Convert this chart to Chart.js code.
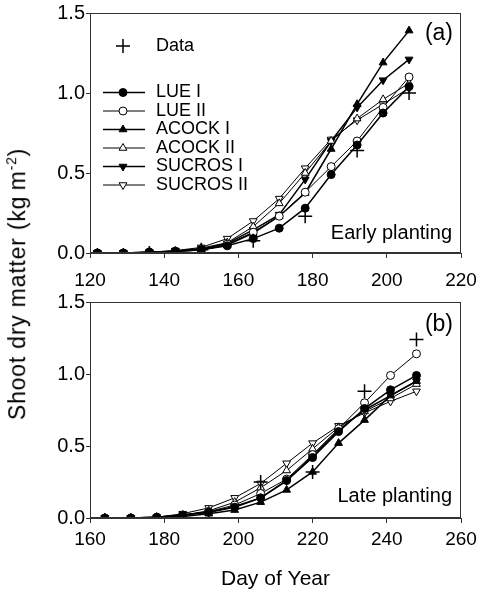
<!DOCTYPE html>
<html>
<head>
<meta charset="utf-8">
<script src="https://cdn.jsdelivr.net/npm/chart.js@4.4.0/dist/chart.umd.min.js"></script>
<style>
  body { margin: 0; background: #fff; width: 477px; height: 596px; position: relative; overflow: hidden; }
  canvas { position: absolute; left: 0; }
  #ytitle {
    position: absolute; left: 17px; top: 284px;
    transform: translate(-50%, -50%) rotate(-90deg);
    white-space: nowrap; font: 23px "Liberation Sans", Arial, sans-serif; letter-spacing: 0.8px; color: #000;
  }
  #ytitle sup { font-size: 14px; }
</style>
</head>
<body>
<canvas id="chartA" width="477" height="290" style="top:0"></canvas>
<canvas id="chartB" width="477" height="306" style="top:290px"></canvas>
<div id="ytitle">Shoot dry matter (kg&#8201;m<sup>-2</sup>)</div>
<script>
// ===== data: (a) early planting =====
const daysA = [122, 129, 136, 143, 150, 157, 164, 171, 178, 185, 192, 199, 206];
const lueIA = [0, 0, 0.005, 0.01, 0.02, 0.045, 0.09, 0.155, 0.28, 0.49, 0.675, 0.875, 1.04];
const lueIIA = [0, 0, 0.005, 0.012, 0.025, 0.055, 0.13, 0.23, 0.38, 0.54, 0.70, 0.91, 1.10];
const acockIA = [0, 0, 0.005, 0.01, 0.02, 0.05, 0.125, 0.23, 0.375, 0.65, 0.93, 1.19, 1.39];
const acockIIA = [0, 0, 0.005, 0.012, 0.03, 0.065, 0.165, 0.31, 0.50, 0.70, 0.84, 0.96, 1.06];
const sucrosIA = [0, 0, 0.005, 0.012, 0.025, 0.06, 0.145, 0.24, 0.46, 0.70, 0.91, 1.08, 1.21];
const sucrosIIA = [0, 0, 0.005, 0.015, 0.035, 0.09, 0.20, 0.34, 0.53, 0.71, 0.83, 0.93, 1.03];
const obsDaysA = [136, 150, 164, 178, 192, 206];
const obsA = [0.0, 0.02, 0.077, 0.23, 0.64, 1.00];

// ===== data: (b) late planting =====
const daysB = [164, 171, 178, 185, 192, 199, 206, 213, 220, 227, 234, 241, 248];
const lueIB = [0, 0, 0.005, 0.02, 0.04, 0.075, 0.14, 0.26, 0.42, 0.60, 0.76, 0.89, 0.99];
const lueIIB = [0, 0, 0.005, 0.02, 0.045, 0.09, 0.17, 0.27, 0.44, 0.62, 0.80, 0.99, 1.14];
const acockIB = [0, 0, 0.005, 0.01, 0.03, 0.055, 0.11, 0.195, 0.32, 0.52, 0.68, 0.85, 0.95];
const acockIIB = [0, 0, 0.005, 0.02, 0.05, 0.11, 0.21, 0.33, 0.48, 0.63, 0.74, 0.83, 0.93];
const sucrosIB = [0, 0, 0.005, 0.02, 0.04, 0.08, 0.14, 0.26, 0.43, 0.61, 0.75, 0.85, 0.95];
const sucrosIIB = [0, 0, 0.005, 0.03, 0.07, 0.14, 0.24, 0.38, 0.52, 0.64, 0.73, 0.81, 0.88];
const obsDaysB = [206, 220, 234, 248];
const obsB = [0.25, 0.32, 0.88, 1.24];

const modelNames = ["LUE I", "LUE II", "ACOCK I", "ACOCK II", "SUCROS I", "SUCROS II"];
const yTicks = [0, 0.5, 1.0, 1.5];

const FONT = "'Liberation Sans', Arial, sans-serif";

// marker look for each model, same order as modelNames
const looks = [
  { pointStyle: "circle", fill: "#000", rot: 0, w: 1.5 },
  { pointStyle: "circle", fill: "#fff", rot: 0, w: 1 },
  { pointStyle: "triangle", fill: "#000", rot: 0, w: 1.5 },
  { pointStyle: "triangle", fill: "#fff", rot: 0, w: 1 },
  { pointStyle: "triangle", fill: "#000", rot: 180, w: 1.5 },
  { pointStyle: "triangle", fill: "#fff", rot: 180, w: 1 },
];

function pts(xs, ys) {
  return xs.map((x, i) => ({ x: x, y: ys[i] }));
}

function buildDatasets(days, series, obsDays, obs) {
  const sets = [
    {
      label: "Data",
      data: pts(obsDays, obs),
      showLine: false,
      pointStyle: "cross",
      pointRadius: 7,
      pointBorderWidth: 1.5,
      pointBorderColor: "#000",
      borderColor: "#000",
    },
  ];
  series.forEach((vals, i) => {
    const lk = looks[i];
    sets.push({
      label: modelNames[i],
      data: pts(days, vals),
      borderColor: "#000",
      borderWidth: lk.w,
      tension: 0,
      pointStyle: lk.pointStyle,
      pointRotation: lk.rot,
      pointRadius: lk.pointStyle === "circle" ? 4 : 4.5,
      pointBackgroundColor: lk.fill,
      pointBorderColor: "#000",
      pointBorderWidth: 1,
    });
  });
  return sets;
}

// frame + panel labels + (optional) legend
const panelPlugin = {
  id: "panel",
  afterDraw(chart, args, opts) {
    const { ctx, chartArea: a } = chart;
    ctx.save();
    ctx.strokeStyle = "#333";
    ctx.lineWidth = 1;
    ctx.strokeRect(Math.round(a.left) + 0.5, Math.round(a.top) + 0.5,
      Math.round(a.right - a.left) - 1, Math.round(a.bottom - a.top) - 1);

    ctx.fillStyle = "#000";
    ctx.textAlign = "right";
    ctx.textBaseline = "middle";
    ctx.font = "23px " + FONT;
    ctx.fillText(opts.tag, 453, opts.tagY);
    ctx.font = "20px " + FONT;
    ctx.fillText(opts.note, 452, opts.noteY);

    if (opts.legend) {
      const sets = chart.data.datasets;
      ctx.font = "18px " + FONT;
      ctx.textAlign = "left";
      // Data row
      ctx.strokeStyle = "#000";
      ctx.lineWidth = 1.5;
      Chart.helpers.drawPoint(ctx, { pointStyle: "cross", radius: 7, rotation: 0, borderWidth: 1.5 }, 123, 46);
      ctx.fillText("Data", 156, 46);
      // model rows
      for (let i = 1; i < sets.length; i++) {
        const ds = sets[i];
        const y = 92.5 + (i - 1) * 18.5;
        ctx.strokeStyle = "#000";
        ctx.lineWidth = ds.borderWidth;
        ctx.beginPath();
        ctx.moveTo(103, y);
        ctx.lineTo(145, y);
        ctx.stroke();
        ctx.fillStyle = ds.pointBackgroundColor;
        ctx.lineWidth = 1;
        Chart.helpers.drawPoint(ctx, {
          pointStyle: ds.pointStyle, radius: ds.pointRadius,
          rotation: ds.pointRotation, borderWidth: 1,
        }, 123, y);
        ctx.fillStyle = "#000";
        ctx.fillText(ds.label, 156, y);
      }
    }
    ctx.restore();
  },
};

function makeChart(id, datasets, xMin, xMax, padTop, xHeight, xPad, panelOpts, xTitle) {
  return new Chart(document.getElementById(id), {
    type: "line",
    data: { datasets: datasets },
    plugins: [panelPlugin],
    options: {
      responsive: false,
      animation: false,
      layout: { padding: { left: 0, right: 16, top: padTop, bottom: 0 } },
      plugins: {
        legend: { display: false },
        tooltip: { enabled: false },
        panel: panelOpts,
      },
      scales: {
        x: {
          type: "linear",
          min: xMin,
          max: xMax,
          ticks: { stepSize: 20, color: "#000", font: { family: FONT, size: 19 }, padding: xPad, maxRotation: 0 },
          grid: { display: true, drawOnChartArea: false, drawTicks: true, tickLength: 5, color: "#333" },
          border: { color: "#333" },
          title: {
            display: !!xTitle,
            text: xTitle || "",
            color: "#000",
            font: { family: FONT, size: 21 },
            padding: { top: 0, bottom: 4 },
          },
          afterFit(scale) {
            scale.height = xHeight;
            scale.paddingLeft = 0;
            scale.paddingRight = 0;
          },
        },
        y: {
          min: 0,
          max: 1.5,
          afterBuildTicks(scale) {
            scale.ticks = yTicks.map((v) => ({ value: v }));
          },
          ticks: {
            color: "#000",
            font: { family: FONT, size: 20 },
            padding: 1,
            callback: (v) => Number(v).toFixed(1),
          },
          grid: { display: true, drawOnChartArea: false, drawTicks: true, tickLength: 4, color: "#333" },
          border: { color: "#333" },
          afterFit(scale) {
            scale.width = 90;
            scale.paddingTop = 0;
            scale.paddingBottom = 0;
          },
        },
      },
    },
  });
}

makeChart(
  "chartA",
  buildDatasets(daysA, [lueIA, lueIIA, acockIA, acockIIA, sucrosIA, sucrosIIA], obsDaysA, obsA),
  120, 220, 13, 37, 11,
  { tag: "(a)", tagY: 34, note: "Early planting", noteY: 233, legend: true }
);

makeChart(
  "chartB",
  buildDatasets(daysB, [lueIB, lueIIB, acockIB, acockIIB, sucrosIB, sucrosIIB], obsDaysB, obsB),
  160, 260, 12, 78, 5,
  { tag: "(b)", tagY: 35, note: "Late planting", noteY: 206, legend: false },
  "Day of Year"
);
</script>
</body>
</html>
